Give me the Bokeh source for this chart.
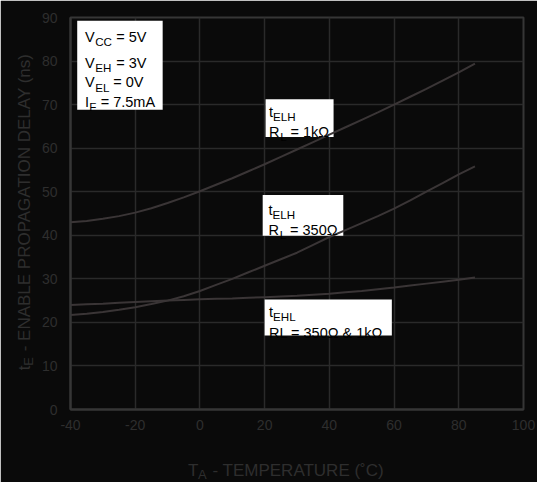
from bokeh.plotting import figure
from bokeh.models import Range1d, FixedTicker, Label, BoxAnnotation
from bokeh.embed import file_html
from bokeh.resources import INLINE
import math

# ---- data ----
temps = [-40, -35, -30, -25, -20, -15, -10, -5, 0, 5, 10, 15, 20, 25, 30, 35, 40, 45, 50, 55, 60, 65, 70, 75, 80, 85]
telh_1k = [43.0, 43.3, 43.8, 44.4, 45.2, 46.2, 47.4, 48.7, 50.1, 51.6, 53.1, 54.7, 56.3, 58.0, 59.7, 61.4,
           63.1, 64.8, 66.5, 68.2, 70.0, 71.8, 73.6, 75.5, 77.4, 79.4]
telh_350 = [21.7, 22.0, 22.4, 22.9, 23.5, 24.2, 25.0, 26.0, 27.2, 28.6, 30.0, 31.5, 33.0, 34.5, 36.0, 37.8,
            39.6, 41.2, 42.8, 44.4, 46.1, 48.0, 50.0, 52.0, 54.0, 55.8]
tehl = [24.0, 24.15, 24.3, 24.5, 24.7, 24.85, 25.0, 25.15, 25.3, 25.4, 25.5, 25.65, 25.8, 25.95, 26.1, 26.35,
        26.6, 26.9, 27.2, 27.6, 28.0, 28.45, 28.9, 29.35, 29.8, 30.3]
x_ticks = [-40, -20, 0, 20, 40, 60, 80, 100]
y_ticks = [0, 10, 20, 30, 40, 50, 60, 70, 80, 90]
x_tick_labels = {t: str(t) for t in x_ticks}

BG = "#0a0a0a"
GRID = "#2a2a2a"
FRAME = "#363636"
CURVE = "#3a3536"
TXT = "#2e2e2e"
FONT = "Liberation Sans"

W, H = 537, 482
SX, SY = W / 553, H / 498   # reference pixel -> figure pixel
FL, FT, FW, FH = 70, 17, 453, 392
X0, X1, Y0, Y1 = -40, 100, 0, 90

p = figure(output_backend="svg", toolbar_location=None,
           frame_width=FW, frame_height=FH,
           min_border_left=FL, min_border_top=FT, min_border_right=W - FL - FW,
           min_border_bottom=H - FT - FH,
           x_range=Range1d(X0, X1), y_range=Range1d(Y0, Y1))
p.background_fill_color = BG
p.border_fill_color = BG
p.outline_line_color = FRAME
p.outline_line_width = 2

for ax in (p.xaxis, p.yaxis):
    ax.axis_line_color = FRAME
    ax.axis_line_width = 2
    ax.major_tick_line_color = None
    ax.minor_tick_line_color = None
    ax.major_tick_out = 0
    ax.major_tick_in = 0
    ax.major_label_text_font = FONT
    ax.major_label_text_font_size = "14px"
    ax.major_label_text_color = TXT
p.xaxis.ticker = FixedTicker(ticks=x_ticks)
p.yaxis.ticker = FixedTicker(ticks=y_ticks)
p.xaxis.major_label_overrides = x_tick_labels
p.xaxis.major_label_standoff = 10
p.yaxis.major_label_standoff = 13

p.xgrid.ticker = FixedTicker(ticks=x_ticks)
p.ygrid.ticker = FixedTicker(ticks=y_ticks)
for g in (p.xgrid, p.ygrid):
    g.grid_line_color = GRID
    g.grid_line_width = 1.5


def X(rx):
    return X0 + (rx * SX - FL) * (X1 - X0) / FW


def Y(ry):
    return Y1 - (ry * SY - FT) * (Y1 - Y0) / FH


# white annotation boxes (below curves)
boxes = [(79, 167, 21, 113), (273, 343, 102, 141), (270, 353, 201, 243), (272, 403, 309, 346)]
for l, r, t, b in boxes:
    p.add_layout(BoxAnnotation(left=X(l), right=X(r), top=Y(t), bottom=Y(b),
                               fill_color="white", fill_alpha=1.0, line_color=None,
                               level="underlay"))

for ys in (telh_1k, telh_350, tehl):
    p.line(temps, ys, line_color=CURVE, line_width=2)

NB = "\u00a0"
# text pieces: (text, ref x, ref baseline y, size)
pieces = [
    ("V", 87, 37.5, 14.5), ("CC", 97.5, 42.5, 11.6), (NB + "= 5V", 115, 37.5, 14.5),
    ("V", 87, 64.5, 14.5), ("EH", 97.5, 69.5, 11.6), (NB + "= 3V", 115, 64.5, 14.5),
    ("V", 87, 84.5, 14.5), ("EL", 97.5, 89.5, 11.6), (NB + "= 0V", 112, 84.5, 14.5),
    ("I", 87, 105, 14.5), ("F", 91.5, 110, 11.6), (NB + "= 7.5mA", 99, 105, 14.5),
    ("t", 276.5, 115, 14.5), ("ELH", 280.7, 120, 11.6),
    ("R", 276.5, 135.7, 14.5), ("L", 288, 140.5, 11.6), (NB + "= 1k\u03a9", 294.5, 135.7, 14.5),
    ("t", 276, 216.5, 14.5), ("ELH", 280.2, 221.5, 11.6),
    ("R", 276, 237, 14.5), ("L", 287.5, 241.5, 11.6), (NB + "= 350\u03a9", 294, 237, 14.5),
    ("t", 276.5, 321.7, 14.5), ("EHL", 280.7, 326.7, 11.6),
    ("RL = 350\u03a9 & 1k\u03a9", 276.5, 344, 14.5),
]
for txt, rx, ry, sz in pieces:
    p.add_layout(Label(x=X(rx), y=Y(ry), text=txt, text_font=FONT,
                       text_font_size=f"{sz}px", text_color="black",
                       text_align="left", text_baseline="alphabetic"))

# axis titles with subscripts, placed in the side panels so they are not clipped
gap = NB * 3
xt = [("T" + gap + "- TEMPERATURE (\u02daC)", 193, 486, 17), ("A", 203.5, 490, 13)]
for txt, rx, ry, sz in xt:
    p.add_layout(Label(x=X(rx), y=Y(ry), text=txt, text_font=FONT,
                       text_font_size=f"{sz}px", text_color=TXT,
                       text_align="left", text_baseline="alphabetic"), "below")

yt = [("t" + gap + "- ENABLE PROPAGATION DELAY (ns)", 25, 382, 17), ("E", 29, 377.3, 13)]
for txt, rx, ry, sz in yt:
    p.add_layout(Label(x=X(rx), y=Y(ry), text=txt, text_font=FONT,
                       text_font_size=f"{sz}px", text_color=TXT, angle=math.pi / 2,
                       text_align="left", text_baseline="alphabetic"), "left")

open("out.html", "w").write(file_html(p, INLINE))
